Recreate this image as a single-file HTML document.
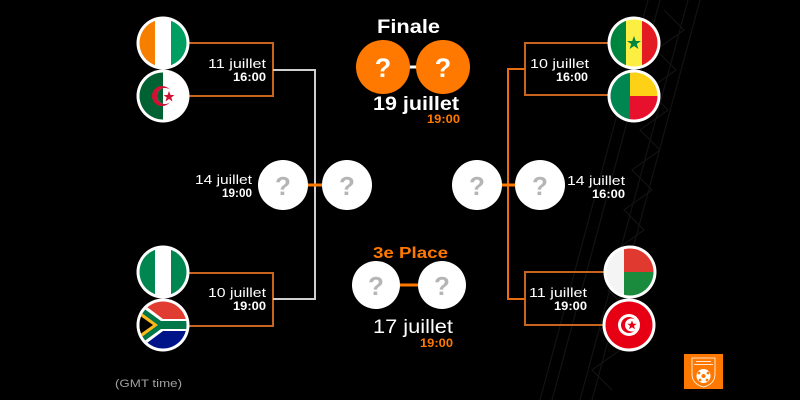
<!DOCTYPE html>
<html><head><meta charset="utf-8"><style>
html,body{margin:0;padding:0;background:#000;}
svg{display:block;}
text{font-family:"Liberation Sans",Arial,sans-serif;}
</style></head><body>
<svg width="800" height="400" viewBox="0 0 800 400" xmlns="http://www.w3.org/2000/svg">
<defs>
<clipPath id="c1"><circle cx="163" cy="43" r="23.5"/></clipPath>
<clipPath id="c2"><circle cx="163" cy="96" r="23.5"/></clipPath>
<clipPath id="c3"><circle cx="163" cy="272" r="23.5"/></clipPath>
<clipPath id="c4"><circle cx="163" cy="325" r="23.5"/></clipPath>
<clipPath id="c5"><circle cx="634" cy="43" r="23.5"/></clipPath>
<clipPath id="c6"><circle cx="634" cy="96" r="23.5"/></clipPath>
<clipPath id="c7"><circle cx="630" cy="272" r="23.5"/></clipPath>
<clipPath id="c8"><circle cx="629" cy="325" r="23.5"/></clipPath>
<clipPath id="hl"><rect x="139" y="72" width="24" height="48"/></clipPath>
</defs>
<rect width="800" height="400" fill="#000"/>
<!-- faint pattern band -->
<g stroke="#121212" stroke-width="1.2" fill="none">
<path d="M648,0 L540,400"/>
<path d="M700,0 L592,400"/>
<path d="M660,0 L552,400"/>
<path d="M688,0 L580,400"/>
<path d="M664,10 L684,30 L656,50 L676,70 L648,90 L668,110 L640,130 L660,150 L632,170 L652,190 L624,210 L644,230 L616,250 L636,270 L608,290 L628,310 L600,330 L620,350 L592,370 L612,390"/>
</g>

<!-- left brackets -->
<g fill="none" stroke="#c8641e" stroke-width="2">
<path d="M189,43 H273 V96 H189"/>
<path d="M189,273 H273 V326 H189"/>
</g>
<path d="M273,70 H315 V299 H273" fill="none" stroke="#cfcfcf" stroke-width="2"/>
<line x1="306" y1="185" x2="324" y2="185" stroke="#ff7900" stroke-width="3"/>

<!-- right brackets -->
<g fill="none" stroke="#c8641e" stroke-width="2">
<path d="M608,43 H525 V95 H608"/>
<path d="M604,272 H525 V325 H604"/>
</g>
<path d="M525,69 H508 V299 H525" fill="none" stroke="#e86d10" stroke-width="2"/>
<line x1="500" y1="185" x2="517" y2="185" stroke="#ff7900" stroke-width="3"/>

<!-- final -->
<text x="408.5" y="33" font-size="19" font-weight="bold" fill="#fff" text-anchor="middle" textLength="63" lengthAdjust="spacingAndGlyphs">Finale</text>
<line x1="408" y1="67" x2="418" y2="67" stroke="#fff" stroke-width="3"/>
<circle cx="383" cy="67" r="27" fill="#ff7900"/>
<circle cx="443" cy="67" r="27" fill="#ff7900"/>
<text x="383" y="77" font-size="27" font-weight="bold" fill="#fff" text-anchor="middle">?</text>
<text x="443" y="77" font-size="27" font-weight="bold" fill="#fff" text-anchor="middle">?</text>
<text x="416" y="110" font-size="19" font-weight="bold" fill="#fff" text-anchor="middle" textLength="86" lengthAdjust="spacingAndGlyphs">19 juillet</text>
<text x="460" y="123" font-size="12" font-weight="bold" fill="#ff7900" text-anchor="end" textLength="33" lengthAdjust="spacingAndGlyphs">19:00</text>

<!-- 3e place -->
<text x="410.5" y="258" font-size="16" font-weight="bold" fill="#ff7900" text-anchor="middle" textLength="75" lengthAdjust="spacingAndGlyphs">3e Place</text>
<line x1="398" y1="285" x2="420" y2="285" stroke="#ff7900" stroke-width="3"/>
<circle cx="376" cy="285" r="24" fill="#fff"/>
<circle cx="442" cy="285" r="24" fill="#fff"/>
<text x="376" y="295" font-size="26" font-weight="bold" fill="#b5b5b5" text-anchor="middle">?</text>
<text x="442" y="295" font-size="26" font-weight="bold" fill="#b5b5b5" text-anchor="middle">?</text>
<text x="413" y="333" font-size="19" fill="#fff" text-anchor="middle" textLength="80" lengthAdjust="spacingAndGlyphs">17 juillet</text>
<text x="453" y="347" font-size="12" font-weight="bold" fill="#ff7900" text-anchor="end" textLength="33" lengthAdjust="spacingAndGlyphs">19:00</text>

<!-- semifinal circles -->
<circle cx="283" cy="185" r="25" fill="#fff"/>
<circle cx="347" cy="185" r="25" fill="#fff"/>
<circle cx="477" cy="185" r="25" fill="#fff"/>
<circle cx="540" cy="185" r="25" fill="#fff"/>
<g font-size="26" font-weight="bold" fill="#b5b5b5" text-anchor="middle">
<text x="283" y="195">?</text>
<text x="347" y="195">?</text>
<text x="477" y="195">?</text>
<text x="540" y="195">?</text>
</g>

<!-- date labels -->
<g fill="#fff" text-anchor="end">
<text x="266" y="68" font-size="13" textLength="58" lengthAdjust="spacingAndGlyphs">11 juillet</text>
<text x="266" y="81" font-size="12" font-weight="bold" textLength="33" lengthAdjust="spacingAndGlyphs">16:00</text>
<text x="252" y="184" font-size="13" textLength="57" lengthAdjust="spacingAndGlyphs">14 juillet</text>
<text x="252" y="197" font-size="12" font-weight="bold" textLength="30" lengthAdjust="spacingAndGlyphs">19:00</text>
<text x="266" y="297" font-size="13" textLength="58" lengthAdjust="spacingAndGlyphs">10 juillet</text>
<text x="266" y="310" font-size="12" font-weight="bold" textLength="33" lengthAdjust="spacingAndGlyphs">19:00</text>
<text x="589" y="68" font-size="13" textLength="59" lengthAdjust="spacingAndGlyphs">10 juillet</text>
<text x="588" y="81" font-size="12" font-weight="bold" textLength="32" lengthAdjust="spacingAndGlyphs">16:00</text>
<text x="625" y="185" font-size="13" textLength="58" lengthAdjust="spacingAndGlyphs">14 juillet</text>
<text x="625" y="198" font-size="12" font-weight="bold" textLength="33" lengthAdjust="spacingAndGlyphs">16:00</text>
<text x="587" y="297" font-size="13" textLength="58" lengthAdjust="spacingAndGlyphs">11 juillet</text>
<text x="587" y="310" font-size="12" font-weight="bold" textLength="33" lengthAdjust="spacingAndGlyphs">19:00</text>
</g>

<!-- flags: white borders -->
<g fill="#fff">
<circle cx="163" cy="43" r="26.5"/>
<circle cx="163" cy="96" r="26.5"/>
<circle cx="163" cy="272" r="26.5"/>
<circle cx="163" cy="325" r="26.5"/>
<circle cx="634" cy="43" r="26.5"/>
<circle cx="634" cy="96" r="26.5"/>
<circle cx="630" cy="272" r="26.5"/>
<circle cx="629" cy="325" r="26.5"/>
</g>
<!-- Ivory Coast -->
<g clip-path="url(#c1)">
<rect x="139" y="19" width="16" height="48" fill="#f77f00"/>
<rect x="155" y="19" width="16" height="48" fill="#fff"/>
<rect x="171" y="19" width="16" height="48" fill="#009e60"/>
</g>
<!-- Algeria -->
<g clip-path="url(#c2)">
<rect x="139" y="72" width="24" height="48" fill="#006233"/>
<rect x="163" y="72" width="24" height="48" fill="#fff"/>
<circle cx="162" cy="96" r="10" fill="#d21034"/>
<circle cx="165" cy="96" r="8" fill="#fff"/>
<circle cx="165" cy="96" r="8" fill="#006233" clip-path="url(#hl)"/>
<polygon points="169,91 170.5,95 174.5,95 171.3,97.5 172.5,101.5 169,99 165.5,101.5 166.7,97.5 163.5,95 167.5,95" fill="#d21034"/>
</g>
<!-- Nigeria -->
<g clip-path="url(#c3)">
<rect x="139" y="248" width="16" height="48" fill="#008751"/>
<rect x="155" y="248" width="16" height="48" fill="#fff"/>
<rect x="171" y="248" width="16" height="48" fill="#008751"/>
</g>
<!-- South Africa -->
<g clip-path="url(#c4)">
<rect x="139" y="301" width="48" height="24" fill="#e03c31"/>
<rect x="139" y="325" width="48" height="24" fill="#001489"/>
<path d="M139,301 L163,319 H190 V331 H163 L139,349 Z" fill="#fff"/>
<path d="M139,305 L161,321 H190 V329 H161 L139,345 Z" fill="#007749"/>
<path d="M139,311 L158,325 L139,339 Z" fill="#ffb81c"/>
<path d="M139,315 L153,325 L139,335 Z" fill="#000"/>
</g>
<!-- Senegal -->
<g clip-path="url(#c5)">
<rect x="610" y="19" width="16" height="48" fill="#00853f"/>
<rect x="626" y="19" width="16" height="48" fill="#fdef42"/>
<rect x="642" y="19" width="16" height="48" fill="#e31b23"/>
<polygon points="634,36 635.8,41 641,41 636.8,44 638.4,49 634,46 629.6,49 631.2,44 627,41 632.2,41" fill="#00853f"/>
</g>
<!-- Benin -->
<g clip-path="url(#c6)">
<rect x="610" y="72" width="20" height="48" fill="#008751"/>
<rect x="630" y="72" width="28" height="24" fill="#fcd116"/>
<rect x="630" y="96" width="28" height="24" fill="#e8112d"/>
</g>
<!-- Madagascar -->
<g clip-path="url(#c7)">
<rect x="606" y="248" width="18" height="48" fill="#f4f4f4"/>
<rect x="624" y="248" width="30" height="24" fill="#e0392f"/>
<rect x="624" y="272" width="30" height="24" fill="#1a8a3c"/>
</g>
<!-- Tunisia -->
<g clip-path="url(#c8)">
<rect x="605" y="301" width="48" height="48" fill="#e70013"/>
<circle cx="629" cy="325" r="11" fill="#fff"/>
<circle cx="629" cy="325" r="8" fill="#e70013"/>
<circle cx="631.5" cy="325" r="6.5" fill="#fff"/>
<polygon points="632,320.5 633.3,323.8 636.8,323.8 634,325.9 635,329.2 632,327.2 629,329.2 630,325.9 627.2,323.8 630.7,323.8" fill="#e70013"/>
</g>

<!-- GMT -->
<text x="115" y="387" font-size="11" fill="#a0a0a0" textLength="67" lengthAdjust="spacingAndGlyphs">(GMT time)</text>

<!-- logo -->
<rect x="684" y="354" width="39" height="35" fill="#ff7900"/>
<path d="M692,358 H715 V374 Q715,384 703.5,387 Q692,384 692,374 Z" fill="none" stroke="#fff" stroke-width="0.8"/>
<circle cx="703.5" cy="376" r="7" fill="#fff"/>
<g fill="#ff7900">
<circle cx="703.5" cy="376" r="2"/>
<circle cx="699" cy="373" r="1.4"/>
<circle cx="708" cy="373" r="1.4"/>
<circle cx="700" cy="380" r="1.4"/>
<circle cx="707" cy="380" r="1.4"/>
</g>
<rect x="696" y="361" width="15" height="1" fill="#fff" opacity="0.8"/>
<rect x="694" y="364" width="19" height="1" fill="#fff" opacity="0.8"/>
</svg>
</body></html>
